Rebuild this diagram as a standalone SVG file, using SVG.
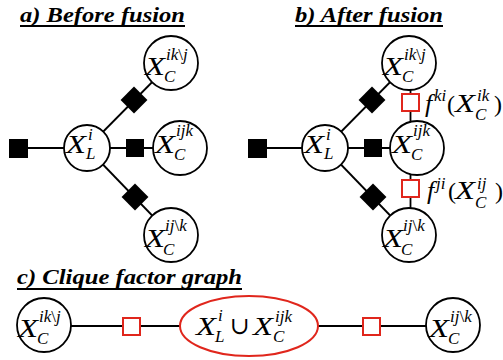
<svg xmlns="http://www.w3.org/2000/svg" width="503" height="360" viewBox="0 0 503 360" font-family="Liberation Serif, DejaVu Serif, serif">
<style>
.bg{fill:#fff}
.t{font-weight:bold;font-style:italic;font-size:22px;fill:#000}
.ul{stroke:#000;stroke-width:2}
.ln{stroke:#000;stroke-width:1.8;fill:none}
.c{fill:#fff;stroke:#000;stroke-width:1.8}
.e{fill:#fff;stroke:#e0261c;stroke-width:2}
.bf{fill:#000}
.rf{fill:#fff;stroke:#e0261c;stroke-width:2}
.X{font-style:italic;font-size:26px;fill:#000}
.s{font-style:italic;font-size:17px;fill:#000}
.u{font-style:normal}
.p{font-size:24px;fill:#000}
</style>
<rect class="bg" x="0" y="0" width="503" height="360"/>

<g id="titles">
<text class="t" x="20" y="22" textLength="165" lengthAdjust="spacingAndGlyphs">a) Before fusion</text>
<line class="ul" x1="20" y1="26" x2="185" y2="26"/>
<text class="t" x="295" y="22" textLength="148" lengthAdjust="spacingAndGlyphs">b) After fusion</text>
<line class="ul" x1="295" y1="26" x2="443" y2="26"/>
<text class="t" x="17" y="284" textLength="225" lengthAdjust="spacingAndGlyphs">c) Clique factor graph</text>
<line class="ul" x1="17" y1="289" x2="242" y2="289"/>
</g>

<g id="connectors">
<line class="ln" x1="18" y1="148" x2="87" y2="148"/>
<line class="ln" x1="87" y1="148" x2="179" y2="148"/>
<line class="ln" x1="87" y1="148" x2="171" y2="63"/>
<line class="ln" x1="87" y1="148" x2="171" y2="235"/>
<line class="ln" x1="257" y1="148" x2="325" y2="148"/>
<line class="ln" x1="325" y1="148" x2="417" y2="148"/>
<line class="ln" x1="325" y1="148" x2="409" y2="63"/>
<line class="ln" x1="325" y1="148" x2="409" y2="235"/>
<line class="ln" x1="410.5" y1="85" x2="410.5" y2="212"/>
<line class="ln" x1="44" y1="326" x2="453" y2="326"/>
</g>

<g id="factors-a">
<rect class="bf" x="9" y="139" width="19" height="19"/>
<rect class="bf" x="126" y="139" width="18" height="18"/>
<rect class="bf" x="-9.5" y="-9.5" width="19" height="19" transform="translate(134,100) rotate(45)"/>
<rect class="bf" x="-9.5" y="-9.5" width="19" height="19" transform="translate(135,197) rotate(45)"/>
</g>
<g id="factors-b">
<rect class="bf" x="248" y="139" width="19" height="19"/>
<rect class="bf" x="364" y="139" width="18" height="18"/>
<rect class="bf" x="-9.5" y="-9.5" width="19" height="19" transform="translate(372,100) rotate(45)"/>
<rect class="bf" x="-9.5" y="-9.5" width="19" height="19" transform="translate(373,197) rotate(45)"/>
<rect class="rf" x="402" y="94" width="17" height="17"/>
<rect class="rf" x="402" y="180" width="17" height="17"/>
</g>
<g id="factors-c">
<rect class="rf" x="123" y="318" width="17" height="17"/>
<rect class="rf" x="363" y="318" width="17" height="17"/>
</g>

<g id="a-XL">
<circle class="c" cx="87" cy="148" r="23"/>
<text class="X" x="66" y="153" textLength="20" lengthAdjust="spacingAndGlyphs">X</text><text class="s" x="88" y="140">i</text><text class="s" x="86" y="159">L</text>
</g>
<g id="a-top">
<circle class="c" cx="171" cy="63" r="27"/>
<text class="X" x="145" y="75" textLength="20" lengthAdjust="spacingAndGlyphs">X</text><text class="s" x="166" y="60">ik<tspan class="u">\</tspan>j</text><text class="s" x="164" y="82">C</text>
</g>
<g id="a-mid">
<circle class="c" cx="180" cy="148" r="27"/>
<text class="X" x="155" y="153" textLength="20" lengthAdjust="spacingAndGlyphs">X</text><text class="s" x="176" y="136">ijk</text><text class="s" x="174" y="160">C</text>
</g>
<g id="a-bot">
<circle class="c" cx="171" cy="235" r="27"/>
<text class="X" x="145" y="247" textLength="20" lengthAdjust="spacingAndGlyphs">X</text><text class="s" x="165" y="231">ij<tspan class="u">\</tspan>k</text><text class="s" x="163" y="255">C</text>
</g>

<g id="b-XL">
<circle class="c" cx="325" cy="148" r="23"/>
<text class="X" x="304" y="153" textLength="20" lengthAdjust="spacingAndGlyphs">X</text><text class="s" x="326" y="140">i</text><text class="s" x="324" y="159">L</text>
</g>
<g id="b-top">
<circle class="c" cx="409" cy="63" r="27"/>
<text class="X" x="383" y="75" textLength="20" lengthAdjust="spacingAndGlyphs">X</text><text class="s" x="404" y="60">ik<tspan class="u">\</tspan>j</text><text class="s" x="402" y="82">C</text>
</g>
<g id="b-mid">
<circle class="c" cx="417" cy="148" r="27"/>
<text class="X" x="392" y="153" textLength="20" lengthAdjust="spacingAndGlyphs">X</text><text class="s" x="413" y="136">ijk</text><text class="s" x="411" y="160">C</text>
</g>
<g id="b-bot">
<circle class="c" cx="409" cy="235" r="27"/>
<text class="X" x="383" y="247" textLength="20" lengthAdjust="spacingAndGlyphs">X</text><text class="s" x="403" y="231">ij<tspan class="u">\</tspan>k</text><text class="s" x="401" y="255">C</text>
</g>
<g id="b-label1">
<text class="X" x="425" y="112">f</text><text class="s" x="434" y="101">ki</text><text class="p" x="447" y="112">(</text><text class="X" x="455" y="112" textLength="20" lengthAdjust="spacingAndGlyphs">X</text><text class="s" x="477" y="101">ik</text><text class="s" x="475" y="120">C</text><text class="p" x="494" y="112">)</text>
</g>
<g id="b-label2">
<text class="X" x="427" y="199">f</text><text class="s" x="436" y="189">ji</text><text class="p" x="448" y="199">(</text><text class="X" x="455" y="199" textLength="20" lengthAdjust="spacingAndGlyphs">X</text><text class="s" x="477" y="189">ij</text><text class="s" x="475" y="208">C</text><text class="p" x="495" y="199">)</text>
</g>

<g id="c-left">
<circle class="c" cx="44" cy="325" r="27"/>
<text class="X" x="18" y="337" textLength="20" lengthAdjust="spacingAndGlyphs">X</text><text class="s" x="39" y="322">ik<tspan class="u">\</tspan>j</text><text class="s" x="37" y="344">C</text>
</g>
<g id="c-clique">
<ellipse class="e" cx="249" cy="326" rx="69" ry="30"/>
<text class="X" x="196" y="335" textLength="20" lengthAdjust="spacingAndGlyphs">X</text><text class="s" x="218" y="321">i</text><text class="s" x="215" y="342">L</text>
<text class="p" x="230" y="334" font-size="20">∪</text>
<text class="X" x="253" y="335" textLength="20" lengthAdjust="spacingAndGlyphs">X</text><text class="s" x="275" y="322">ijk</text><text class="s" x="273" y="342">C</text>
</g>
<g id="c-right">
<circle class="c" cx="453" cy="325" r="27"/>
<text class="X" x="429" y="337" textLength="20" lengthAdjust="spacingAndGlyphs">X</text><text class="s" x="450" y="322">ij<tspan class="u">\</tspan>k</text><text class="s" x="448" y="344">C</text>
</g>
</svg>
